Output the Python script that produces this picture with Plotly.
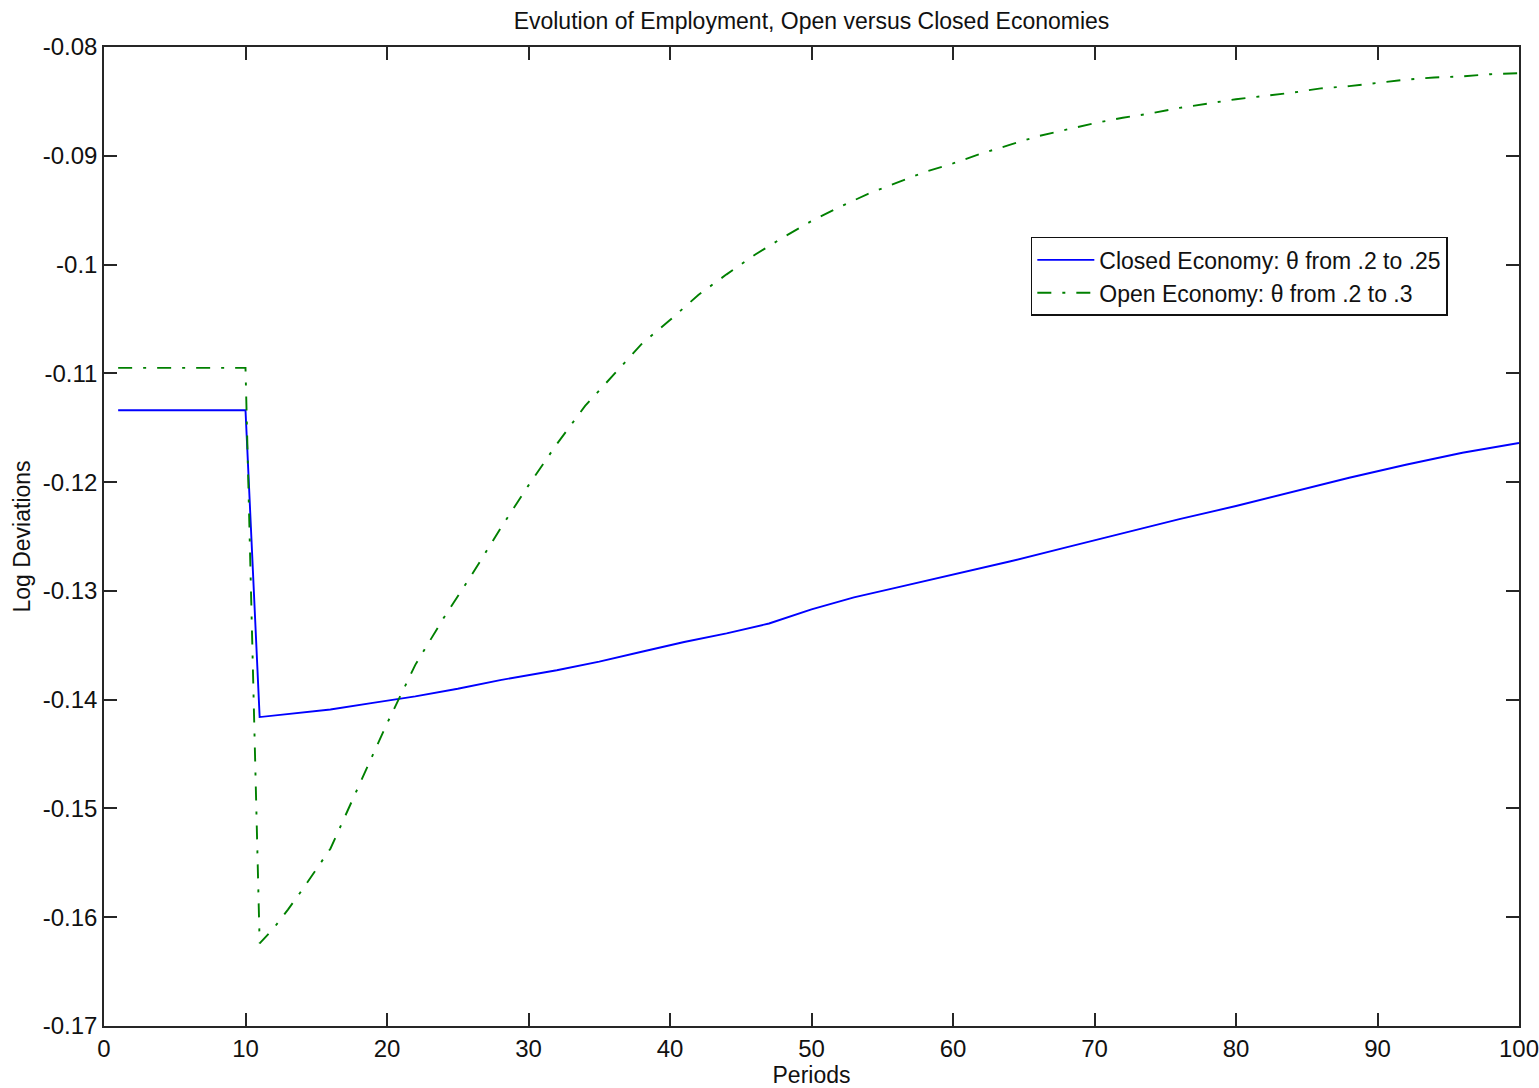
import plotly.graph_objects as go

# Closed economy (theta from .2 to .25)
closed_periods = [1, 10, 11, 13, 16, 19, 22, 25, 28, 32, 35, 38, 41, 44, 47, 50, 53, 56,
                  60, 64, 68, 72, 76, 80, 84, 88, 92, 96, 100]
closed_values = [-0.1134, -0.1134, -0.1416, -0.1413, -0.1409, -0.1403, -0.1397, -0.1390,
                 -0.1382, -0.1373, -0.1365, -0.1356, -0.1347, -0.1339, -0.1330, -0.1317,
                 -0.1306, -0.1297, -0.1285, -0.1273, -0.1260, -0.1247, -0.1234, -0.1222,
                 -0.1209, -0.1196, -0.1184, -0.1173, -0.1164]

# Open economy (theta from .2 to .3)
open_periods = [1, 10, 11, 12, 13, 14, 16, 18, 20, 22, 24, 26, 28, 30, 32, 34, 36, 38, 40,
                42, 44, 46, 48, 50, 52, 54, 56, 58, 60, 62, 64, 66, 68, 70, 72, 74, 76, 78,
                80, 82, 84, 86, 88, 90, 92, 94, 96, 98, 100]
open_values = [-0.1095, -0.1095, -0.1624, -0.1610, -0.1593, -0.1575, -0.1537, -0.1480,
               -0.1422, -0.1368, -0.1325, -0.1285, -0.1243, -0.1203, -0.1165, -0.1130,
               -0.1102, -0.1073, -0.1051, -0.1028, -0.1009, -0.0991, -0.0975, -0.0960,
               -0.0947, -0.0935, -0.0925, -0.0915, -0.0907, -0.0898, -0.0890, -0.0882,
               -0.0876, -0.0870, -0.0865, -0.0861, -0.0856, -0.0852, -0.0848, -0.0845,
               -0.0842, -0.0838, -0.0836, -0.0833, -0.0830, -0.0828, -0.0827, -0.0825,
               -0.0824]

x_ticks = [0, 10, 20, 30, 40, 50, 60, 70, 80, 90, 100]
y_ticks = [-0.17, -0.16, -0.15, -0.14, -0.13, -0.12, -0.11, -0.1, -0.09, -0.08]
y_tick_labels = ["-0.17", "-0.16", "-0.15", "-0.14", "-0.13", "-0.12", "-0.11", "-0.1",
                 "-0.09", "-0.08"]

FONT = "Liberation Sans, Arial, sans-serif"
TXT = "#111111"

fig = go.Figure()
fig.add_trace(go.Scatter(
    x=closed_periods, y=closed_values, mode="lines",
    name="Closed Economy: θ from .2 to .25",
    line=dict(color="#0000FF", width=1.9),
))
fig.add_trace(go.Scatter(
    x=open_periods, y=open_values, mode="lines",
    name="Open Economy: θ from .2 to .3",
    line=dict(color="#008000", width=1.9, dash="14px,11px,3px,11px"),
))

axis_common = dict(
    showline=True, linecolor="#262626", linewidth=1.5, mirror="ticks",
    ticks="inside", ticklen=13, tickwidth=1.5, tickcolor="#262626",
    showgrid=False, zeroline=False, ticklabeloverflow="allow", automargin=False,
    tickfont=dict(family=FONT, size=24, color=TXT),
)

fig.update_layout(
    width=1539, height=1088,
    paper_bgcolor="white", plot_bgcolor="white",
    margin=dict(l=104, r=20, t=47, b=62, autoexpand=False),
    title=dict(text="Evolution of Employment, Open versus Closed Economies",
               x=0.5, xref="paper", xanchor="center", y=1 - 21 / 1088, yanchor="middle",
               font=dict(family=FONT, size=23, color=TXT)),
    xaxis=dict(range=[0, 100], tickvals=x_ticks,
               title=dict(text="Periods", font=dict(family=FONT, size=23, color=TXT),
                          standoff=11),
               **axis_common),
    yaxis=dict(range=[-0.17, -0.08], tickvals=y_ticks, ticktext=y_tick_labels,
               title=dict(text="Log Deviations", font=dict(family=FONT, size=23, color=TXT),
                          standoff=6),
               **axis_common),
    legend=dict(x=0.655, y=0.806, xanchor="left", yanchor="top",
                bgcolor="white", bordercolor=TXT, borderwidth=1.5,
                font=dict(family=FONT, size=23, color=TXT),
                itemwidth=57, tracegroupgap=0),
    showlegend=True,
)

fig.write_html("out.html", config={"displayModeBar": False},
               post_script="document.body.style.margin='0';document.body.style.padding='0';")
